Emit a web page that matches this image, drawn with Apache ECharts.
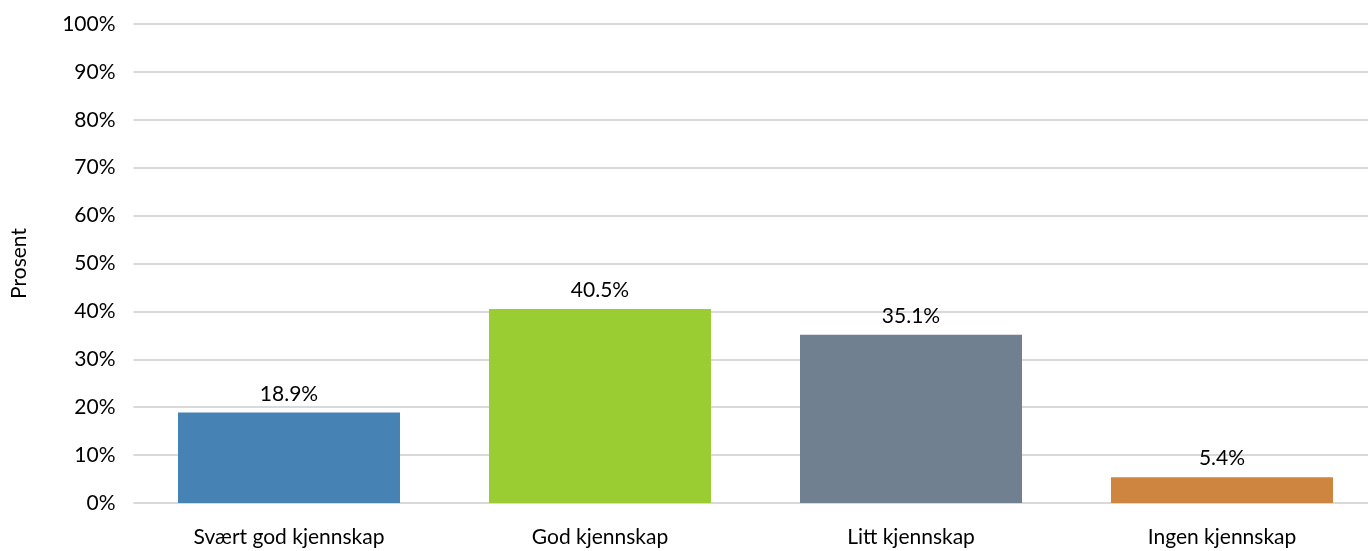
<!DOCTYPE html>
<html><head><meta charset="utf-8">
<script src="https://cdn.jsdelivr.net/npm/echarts@6/dist/echarts.min.js"></script>
<style>html,body{margin:0;padding:0;background:#fff}#c{width:1368px;height:551px}</style>
</head><body><div id="c"></div>
<script>
const categories = ["Svært god kjennskap", "God kjennskap", "Litt kjennskap", "Ingen kjennskap"];
const values = [18.9, 40.5, 35.1, 5.4];
const colors = ["#4682B4", "#9ACD32", "#708090", "#CD853F"];
const yTicks = [0, 10, 20, 30, 40, 50, 60, 70, 80, 90, 100];
const yAxisTitle = "Prosent";

const font = "Lato";
const chart = echarts.init(document.getElementById('c'), null, {renderer: 'canvas'});
chart.setOption({
  animation: false,
  grid: {left: 133.5, width: 1244, top: 24, bottom: 48, containLabel: false, outerBoundsMode: 'none'},
  xAxis: {
    type: 'category', data: categories,
    axisLine: {show: false}, axisTick: {show: false},
    axisLabel: {color: '#000', fontFamily: font, fontSize: 21, margin: 24}
  },
  yAxis: {
    type: 'value', min: yTicks[0], max: yTicks[yTicks.length - 1], interval: 10,
    name: yAxisTitle, nameLocation: 'middle', nameGap: 104, nameRotate: 90,
    nameTextStyle: {color: '#000', fontFamily: font, fontSize: 21},
    axisLine: {show: false}, axisTick: {show: false},
    axisLabel: {color: '#000', fontFamily: font, fontSize: 21, margin: 18, formatter: v => v + '%'},
    splitLine: {lineStyle: {color: '#d9d9d9', width: 2}}
  },
  series: [{
    type: 'bar', barWidth: 222,
    data: values.map((v, i) => ({value: v, itemStyle: {color: colors[i]}})),
    label: {show: true, position: 'top', distance: 8, color: '#000', fontFamily: font, fontSize: 21,
      formatter: p => p.value.toFixed(1) + '%'}
  }]
});
</script></body></html>
